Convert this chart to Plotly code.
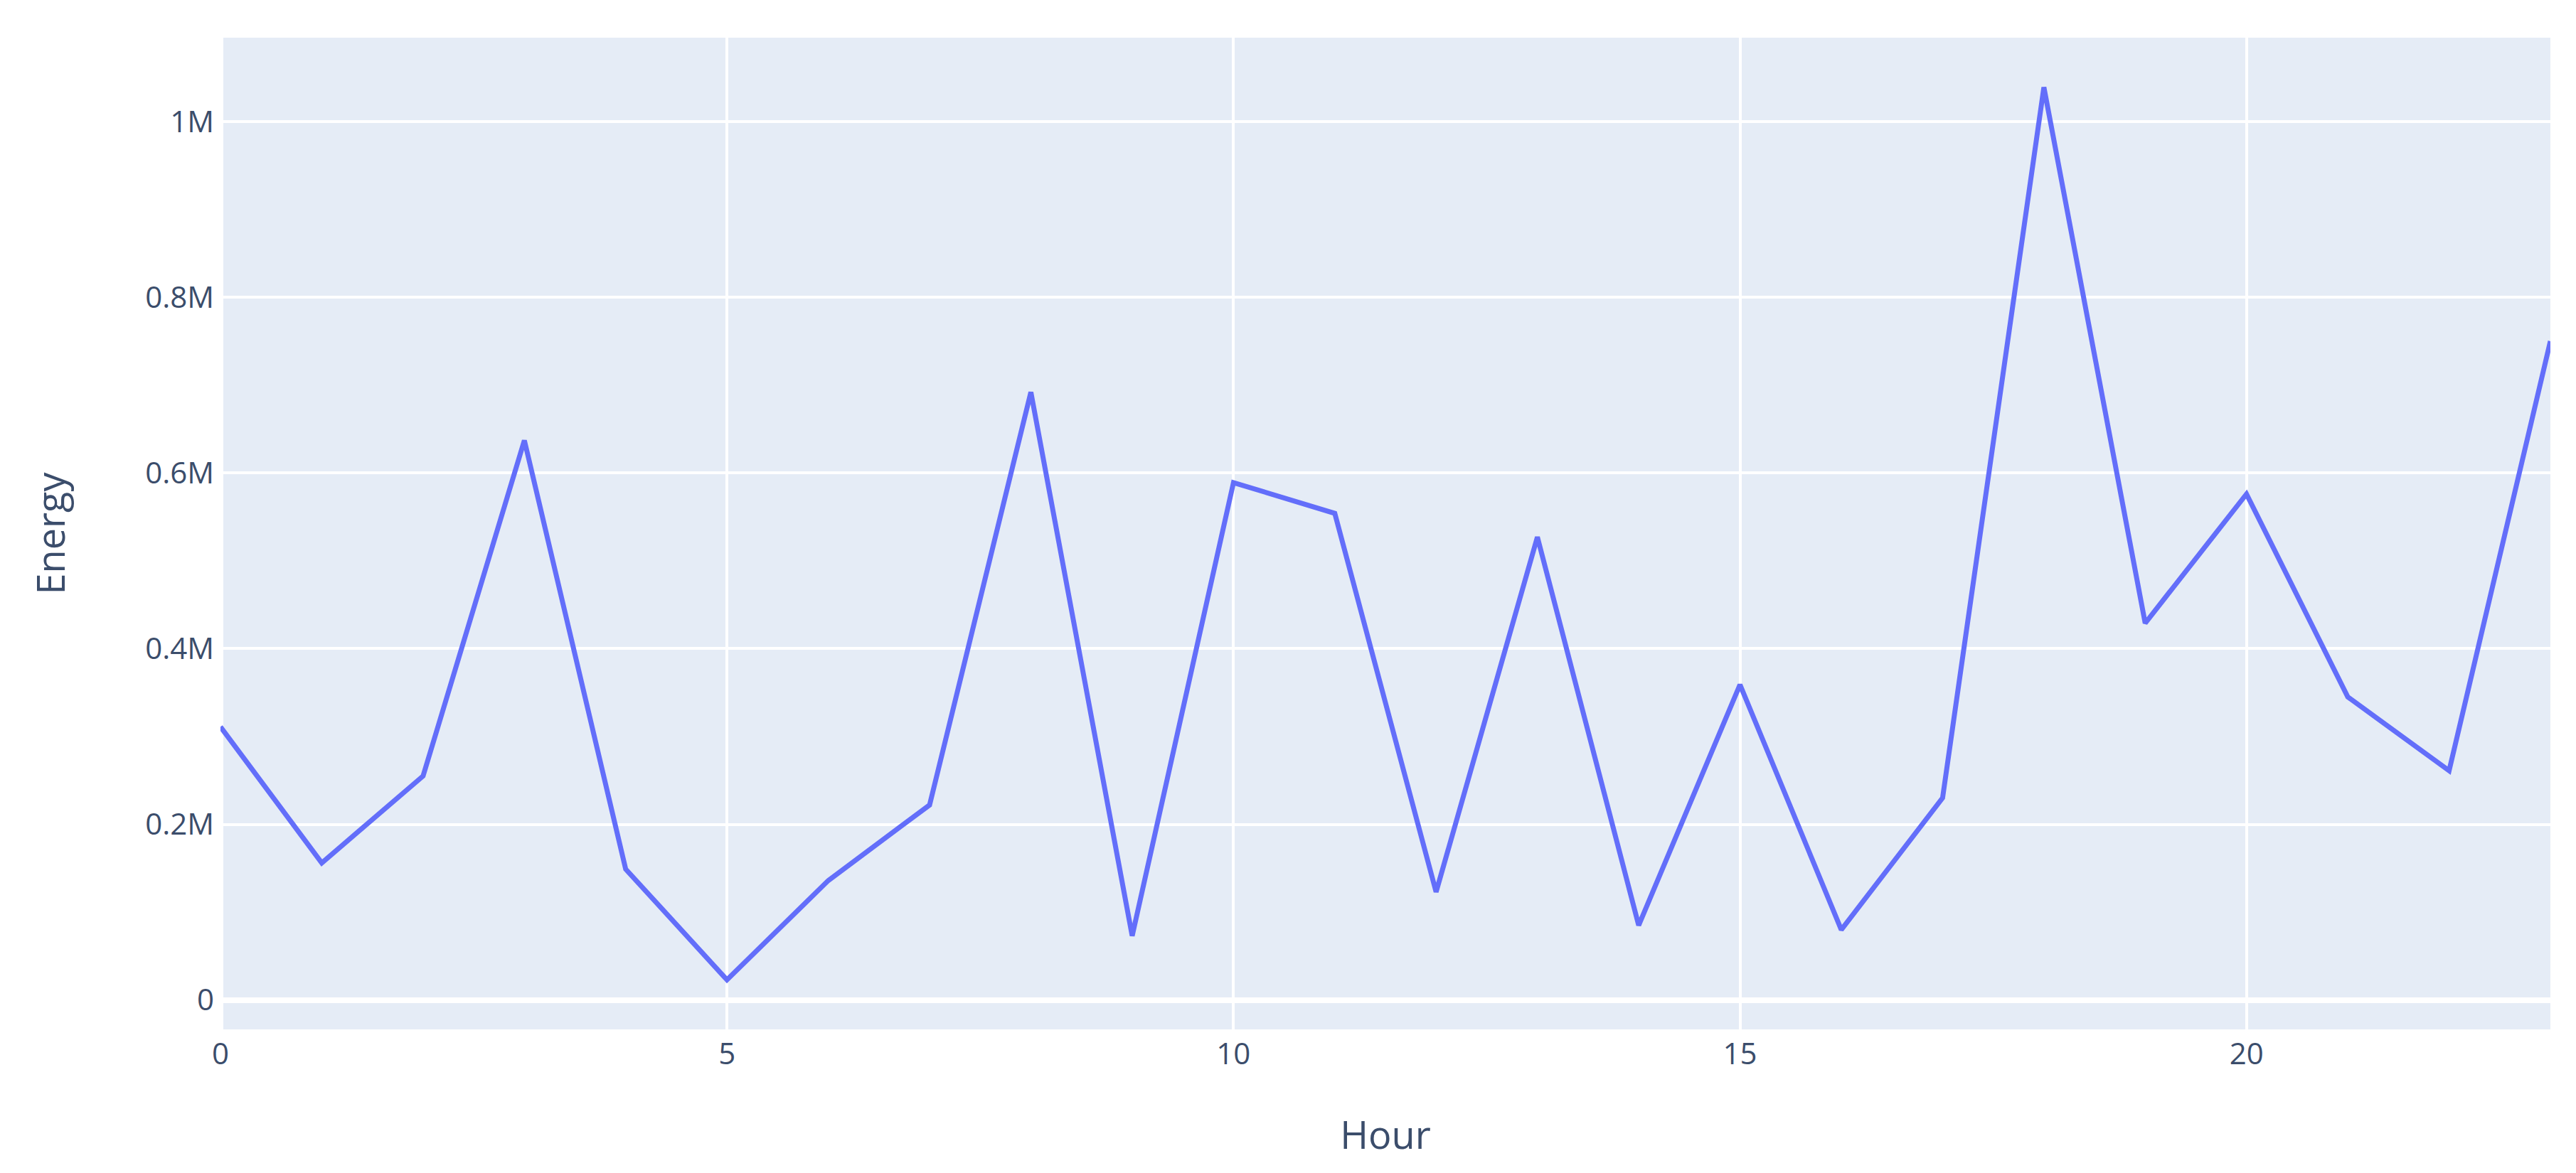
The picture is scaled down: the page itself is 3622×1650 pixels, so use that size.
import plotly.graph_objects as go

hours = list(range(24))
energy = [311000, 156000, 255000, 637000, 149000, 23000, 136000, 222000,
          692000, 73000, 589000, 554000, 123000, 527000, 85000, 359000,
          80000, 230000, 1039000, 429000, 576000, 345000, 261000, 750000]

fig = go.Figure()
fig.add_trace(go.Scatter(x=hours, y=energy, mode="lines",
                         line=dict(color="#636efa", width=7)))

fig.update_layout(
    template="plotly",
    width=3622, height=1650,
    margin=dict(l=302, r=44, t=45, b=210),
    font=dict(family="Open Sans, sans-serif", size=42, color="#3b4d6b"),
    showlegend=False,
)
fig.update_xaxes(title=dict(text="Hour", font=dict(size=54), standoff=70),
                 gridwidth=4, zerolinewidth=8, automargin=False,
                 ticklabelstandoff=6)
fig.update_yaxes(title=dict(text="Energy", font=dict(size=54), standoff=95),
                 gridwidth=4, zerolinewidth=8, automargin=False,
                 ticklabelstandoff=8)

fig.write_html("out.html")
